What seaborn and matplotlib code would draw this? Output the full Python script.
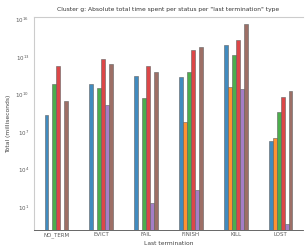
import numpy as np
import pandas as pd
import matplotlib
matplotlib.use("Agg")
import matplotlib.pyplot as plt
import seaborn as sns

terminations = ["NO_TERM", "EVICT", "FAIL", "FINISH", "KILL", "LOST"]
statuses = ["s0", "s1", "s2", "s3", "s4", "s5"]
colors = ["#1f77b4", "#ff7f0e", "#2ca02c", "#d62728", "#9467bd", "#8c564b"]

# log10 of total time (ms); nan = no bar
log_s0 = [8.34, 10.84, 11.46, 11.43, 13.98, 6.24]
log_s1 = [np.nan, np.nan, np.nan, 7.83, 10.57, 6.51]
log_s2 = [10.84, 10.49, 9.68, 11.78, 13.18, 8.60]
log_s3 = [12.29, 12.85, 12.27, 13.52, 14.36, 9.77]
log_s4 = [np.nan, 9.15, 1.30, 2.37, 10.44, -0.37]
log_s5 = [9.47, 12.45, 11.78, 13.80, 15.60, 10.30]

series = [log_s0, log_s1, log_s2, log_s3, log_s4, log_s5]
rows = []
for status, vals in zip(statuses, series):
    for term, v in zip(terminations, vals):
        rows.append({"term": term, "status": status, "total": 10 ** v})
df = pd.DataFrame(rows)

sns.set_style("white")
fig = plt.figure(figsize=(3.07, 2.48), dpi=100)
ax = fig.add_axes([34 / 307, 18 / 248, 269 / 307, 213 / 248])

sns.barplot(data=df, x="term", y="total", hue="status", order=terminations,
            hue_order=statuses, palette=colors, width=0.53,
            edgecolor="0.4", linewidth=0.5, saturation=1, alpha=0.85, ax=ax)
ax.set_yscale("log")
ax.set_ylim(10 ** -0.85, 10 ** 16.2)
ax.set_yticks([10.0 ** k for k in range(1, 17, 3)])
ax.minorticks_off()
ax.set_xlim(-0.5, 5.5)

ax.legend_.remove()
ax.set_title('Cluster g: Absolute total time spent per status per "last termination" type',
             fontsize=4.35, color="0.2", pad=4)
ax.set_xlabel("Last termination", fontsize=4.3, color="0.25", labelpad=2)
ax.set_ylabel("Total (milliseconds)", fontsize=4.3, color="0.25", labelpad=3)
ax.tick_params(axis="both", labelsize=4, colors="0.35", length=2, width=0.5, pad=1.5)
ax.tick_params(axis="x", length=0)

for side in ["left", "top"]:
    ax.spines[side].set_color("#cccccc")
    ax.spines[side].set_linewidth(0.8)
ax.spines["right"].set_visible(False)
ax.spines["bottom"].set_color("0.3")
ax.spines["bottom"].set_linewidth(0.6)

fig.savefig("out.png", dpi=100)
